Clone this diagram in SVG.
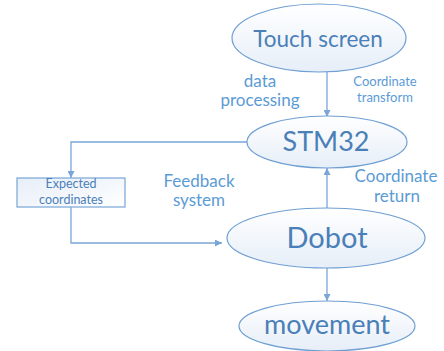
<svg xmlns="http://www.w3.org/2000/svg" width="444" height="351" viewBox="0 0 444 351">
<style>
.node{fill:url(#g);stroke:#6f9fd2;stroke-width:1.2}
.nt{font-family:Lato,"Liberation Sans",sans-serif;fill:#4a7fb8;text-anchor:middle}
.lb{font-family:Lato,"Liberation Sans",sans-serif;fill:#5b9bd5;text-anchor:middle}
.c{fill:none;stroke:#79a6d6;stroke-width:1.3}
</style>
<defs>
<linearGradient id="g" x1="0" y1="0" x2="0" y2="1">
<stop offset="0" stop-color="#ffffff"/>
<stop offset="1" stop-color="#e6eef8"/>
</linearGradient>
<linearGradient id="gb" x1="0" y1="0" x2="1" y2="1">
<stop offset="0" stop-color="#e6eef8"/>
<stop offset="1" stop-color="#ffffff"/>
</linearGradient>
<marker id="a" viewBox="0 0 10 10" refX="10" refY="5" markerWidth="7" markerHeight="7" orient="auto" markerUnits="userSpaceOnUse">
<path d="M0,0 L10,5 L0,10 z" fill="#79a6d6"/>
</marker>
</defs>
<g id="connectors">
<line class="c" x1="327" y1="72" x2="327" y2="117" marker-end="url(#a)"/>
<line class="c" x1="327" y1="208" x2="327" y2="168" marker-end="url(#a)"/>
<line class="c" x1="327" y1="268" x2="327" y2="301" marker-end="url(#a)"/>
<polyline class="c" points="247,142 71,142 71,178" marker-end="url(#a)"/>
<polyline class="c" points="71,207 71,243 222,243" marker-end="url(#a)"/>
</g>
<g id="touch">
<ellipse class="node" cx="319" cy="38" rx="87" ry="34"/>
<text class="nt" x="318" y="47" font-size="22.5">Touch screen</text>
</g>
<g id="stm32">
<ellipse class="node" cx="327" cy="142" rx="80" ry="26"/>
<text class="nt" x="326" y="151" font-size="27">STM32</text>
</g>
<g id="dobot">
<ellipse class="node" cx="326" cy="238" rx="99" ry="30"/>
<text class="nt" x="327" y="248" font-size="29">Dobot</text>
</g>
<g id="movement">
<ellipse class="node" cx="327" cy="326" rx="88" ry="25"/>
<text class="nt" x="327" y="334" font-size="27">movement</text>
</g>
<g id="expected">
<rect x="17" y="178" width="108" height="29" fill="url(#gb)" stroke="#79a6d6" stroke-width="1.2"/>
<text class="nt" x="71" y="188" font-size="12.5">Expected</text>
<text class="nt" x="71" y="204" font-size="12.5">coordinates</text>
</g>
<g id="labels">
<text class="lb" x="260" y="87" font-size="17">data</text>
<text class="lb" x="260" y="106" font-size="17">processing</text>
<text class="lb" x="385" y="86" font-size="13">Coordinate</text>
<text class="lb" x="385" y="102" font-size="13">transform</text>
<text class="lb" x="199" y="187" font-size="17">Feedback</text>
<text class="lb" x="199" y="206" font-size="17">system</text>
<text class="lb" x="396" y="182" font-size="17">Coordinate</text>
<text class="lb" x="397" y="202" font-size="17">return</text>
</g>
</svg>
